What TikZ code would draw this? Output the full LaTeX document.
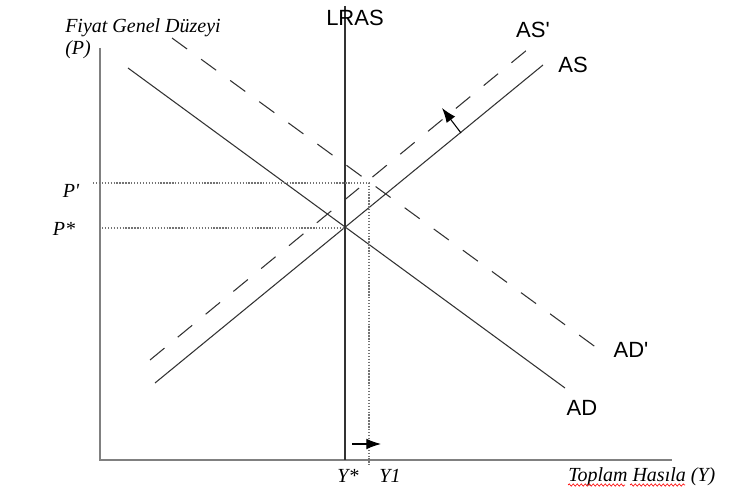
\documentclass[tikz,border=0pt]{standalone}
\usepackage{fontspec}
\setmainfont{Liberation Serif}
\setsansfont{Liberation Sans}
\usetikzlibrary{arrows.meta,decorations.pathmorphing}

\begin{document}
\begin{tikzpicture}[x=0.75pt, y=-0.75pt,
  axis/.style={draw=black!50, line width=1.1pt},
  curve/.style={draw=black!80, line width=0.8pt},
  shifted/.style={curve, dash pattern=on 14pt off 13pt},
  guide/.style={draw=black!55, line width=0.8pt, dash pattern=on 1pt off 1.2pt},
  movearrow/.style={-{Latex[length=11pt,width=8pt]}, draw=black, line width=0.8pt},
  lbl/.style={font=\sffamily\fontsize{16.5}{18}\selectfont, inner sep=0pt, anchor=base},
  ital/.style={font=\itshape\fontsize{15}{16.5}\selectfont, inner sep=0pt, anchor=base}
]
\useasboundingbox (0,0) rectangle (751,503);

% axes
\coordinate (o) at (100,460);
\coordinate (ytop) at (100,48);
\coordinate (xend) at (672,460);
\draw[axis] (ytop) -- (o) -- (xend);
\node[ital, anchor=base west, align=left] (ylbl) at (65,55) {Fiyat Genel Düzeyi\\(P)};
\node[ital, anchor=base west] (xlbl) at (568,481) {Toplam Hasıla (Y)};
\draw[red, line width=0.5pt, decorate, decoration={snake, segment length=3pt, amplitude=0.8pt}] (568,485) -- (625,485);
\draw[red, line width=0.5pt, decorate, decoration={snake, segment length=3pt, amplitude=0.8pt}] (630,485) -- (685,485);

% long run supply
\coordinate (lr0) at (345,6);
\coordinate (lr1) at (345,460);
\draw[curve] (lr0) -- (lr1);
\node[lbl] (lras) at (355,26) {LRAS};

% demand and supply
\coordinate (ad0) at (128,68);
\coordinate (ad1) at (565,388);
\coordinate (adp0) at (172,38);
\coordinate (adp1) at (601,351);
\coordinate (as0) at (155,383);
\coordinate (as1) at (543,65);
\coordinate (asp0) at (150,360);
\coordinate (asp1) at (533,45);
\draw[curve] (ad0) -- (ad1);
\draw[shifted] (adp0) -- (adp1);
\draw[curve] (as0) -- (as1);
\draw[shifted] (asp0) -- (asp1);
\node[lbl] (adl) at (582,415) {AD};
\node[lbl] (adpl) at (631,357) {AD\textquotesingle};
\node[lbl] (asl) at (573,73) {AS};
\node[lbl] (aspl) at (533,38) {AS\textquotesingle};

% price levels
\coordinate (pp0) at (93,183);
\coordinate (pp1) at (369,183);
\coordinate (y1b) at (369,465);
\coordinate (ps0) at (102,228);
\coordinate (ps1) at (345,228);
\draw[guide] (pp0) -- (pp1) -- (y1b);
\draw[guide] (ps0) -- (ps1);
\node[ital] (pplbl) at (71,198) {P\textquotesingle};
\node[ital] (pslbl) at (64,236) {P*};
\node[ital] (yslbl) at (348,482) {Y*};
\node[ital] (y1lbl) at (390,482) {Y1};

% shifts
\coordinate (sa0) at (461,133);
\coordinate (sa1) at (442,108);
\coordinate (sy0) at (352,444);
\coordinate (sy1) at (381,444);
\draw[movearrow] (sa0) -- (sa1);
\draw[movearrow] (sy0) -- (sy1);
\end{tikzpicture}
\end{document}
